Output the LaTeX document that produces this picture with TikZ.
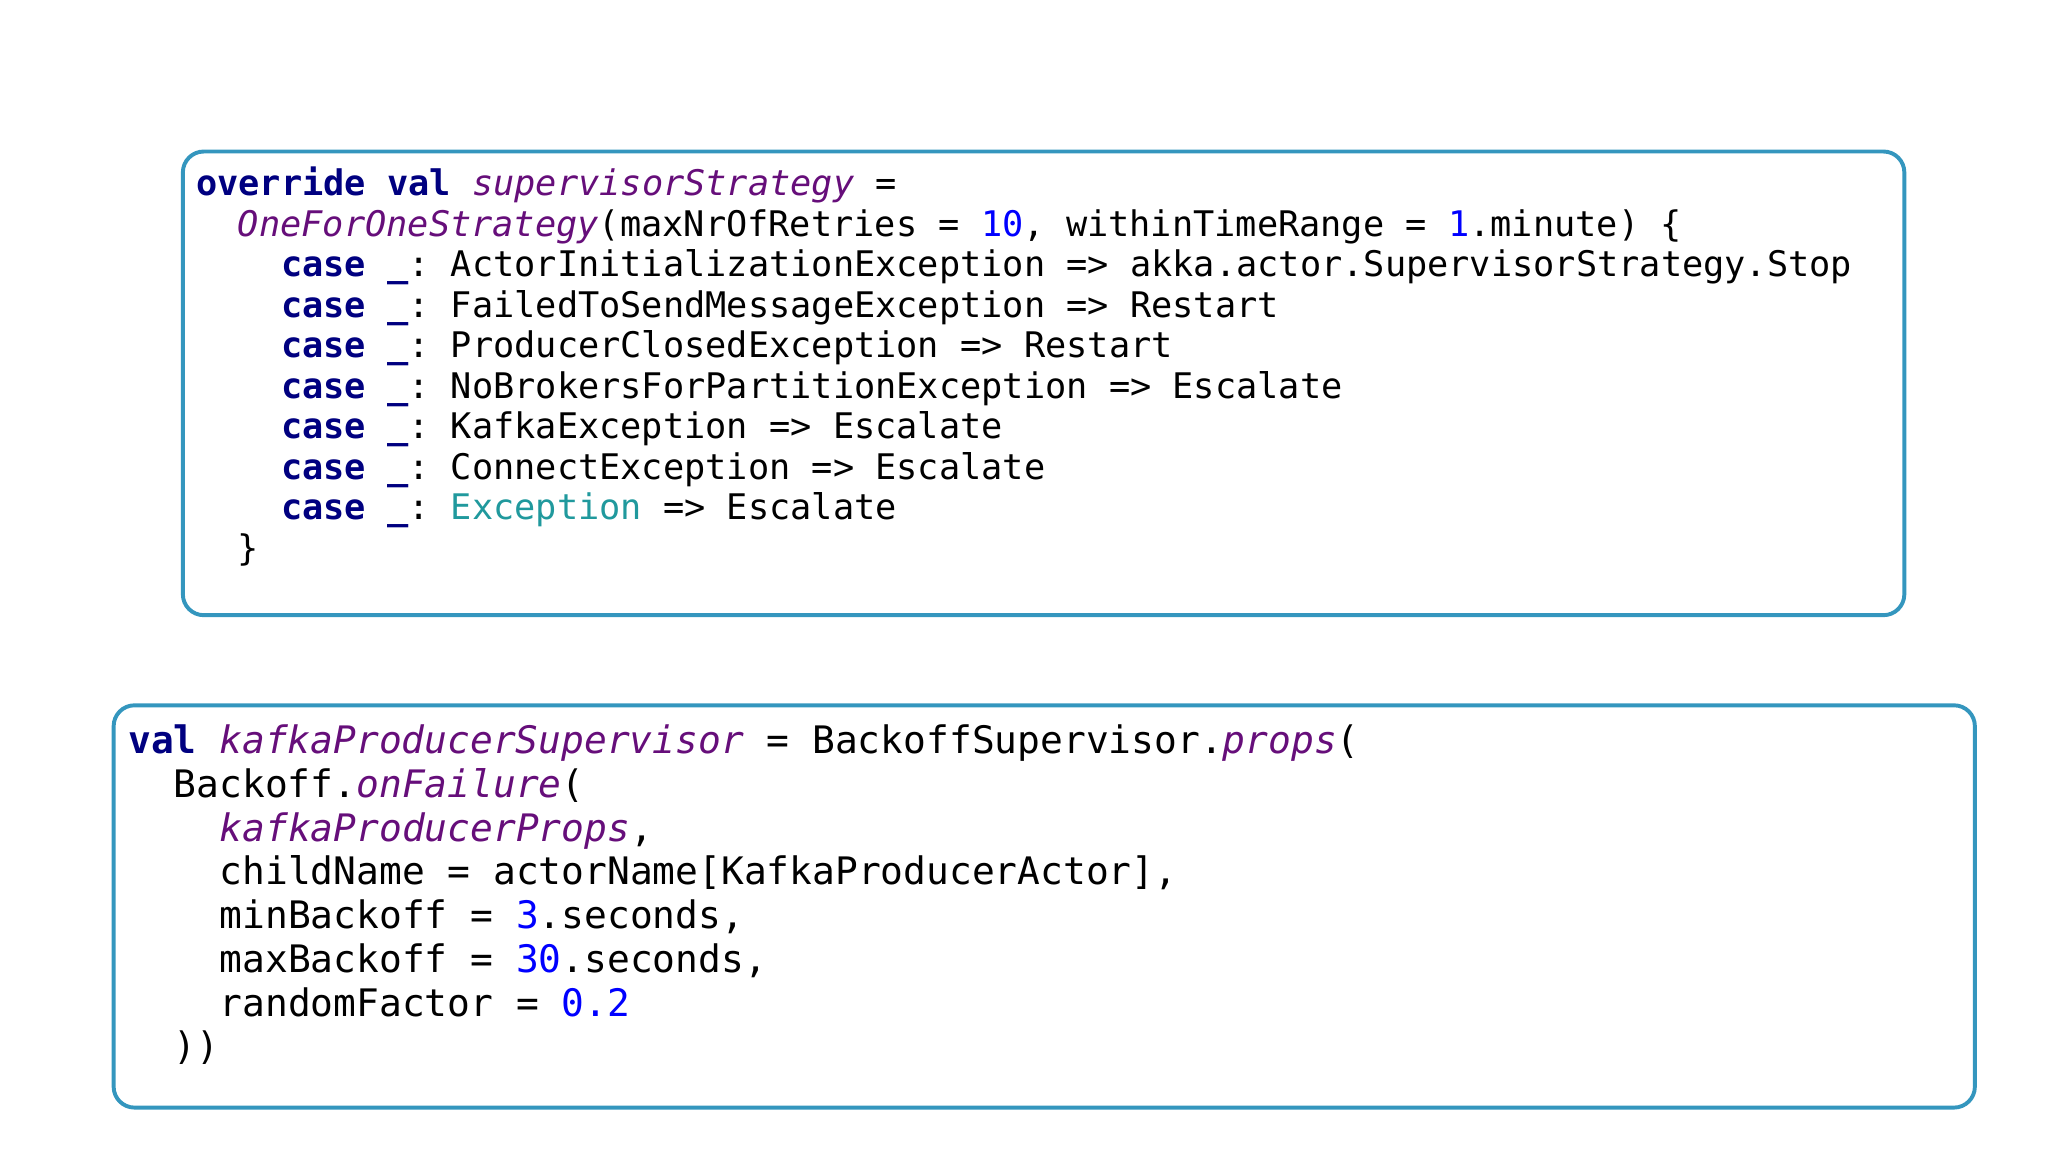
\documentclass[tikz,border=0pt]{standalone}
\usepackage{fontspec}
\setmonofont{DejaVu Sans Mono}
\definecolor{kw}{RGB}{0,0,128}
\definecolor{pu}{RGB}{102,14,122}
\definecolor{nm}{RGB}{0,0,255}
\definecolor{tl}{RGB}{32,153,157}
\definecolor{bx}{RGB}{52,150,190}
\newcommand{\Kw}[1]{{\color{kw}\bfseries #1}}
\newcommand{\Pu}[1]{{\color{pu}\itshape #1}}
\newcommand{\Nm}[1]{{\color{nm}#1}}
\begin{document}
\begin{tikzpicture}[x=1pt,y=-1pt,
  box/.style={draw=bx,line width=3pt,rounded corners=16pt},
  top/.style={anchor=base west,inner sep=0pt,font=\ttfamily\fontsize{27}{27}\selectfont},
  bot/.style={anchor=base west,inner sep=0pt,font=\ttfamily\fontsize{29}{29}\selectfont}]
\useasboundingbox (0,0) rectangle (1568,882);
\draw[box] (140,116) rectangle (1458,471);
\draw[box] (87,540) rectangle (1512,848);
\node[top] (t1) at (150,150) {\Kw{override val} \Pu{supervisorStrategy} =};
\node[top] (t2) at (182,181) {\Pu{OneForOneStrategy}(maxNrOfRetries = \Nm{10}, withinTimeRange = \Nm{1}.minute) \{};
\node[top] (t3) at (215,212) {\Kw{case \_}: ActorInitializationException => akka.actor.SupervisorStrategy.Stop};
\node[top] (t4) at (215,243) {\Kw{case \_}: FailedToSendMessageException => Restart};
\node[top] (t5) at (215,274) {\Kw{case \_}: ProducerClosedException => Restart};
\node[top] (t6) at (215,305) {\Kw{case \_}: NoBrokersForPartitionException => Escalate};
\node[top] (t7) at (215,336) {\Kw{case \_}: KafkaException => Escalate};
\node[top] (t8) at (215,367) {\Kw{case \_}: ConnectException => Escalate};
\node[top] (t9) at (215,398) {\Kw{case \_}: {\color{tl}Exception} => Escalate};
\node[top] (t10) at (182,429) {\}};
\node[bot] (b1) at (98,577) {\Kw{val} \Pu{kafkaProducerSupervisor} = BackoffSupervisor.\Pu{props}(};
\node[bot] (b2) at (133,610.5) {Backoff.\Pu{onFailure}(};
\node[bot] (b3) at (168,644) {\Pu{kafkaProducerProps},};
\node[bot] (b4) at (168,677.5) {childName = actorName[KafkaProducerActor],};
\node[bot] (b5) at (168,711) {minBackoff = \Nm{3}.seconds,};
\node[bot] (b6) at (168,744.5) {maxBackoff = \Nm{30}.seconds,};
\node[bot] (b7) at (168,778) {randomFactor = \Nm{0.2}};
\node[bot] (b8) at (133,811.5) {))};
\end{tikzpicture}
\end{document}
